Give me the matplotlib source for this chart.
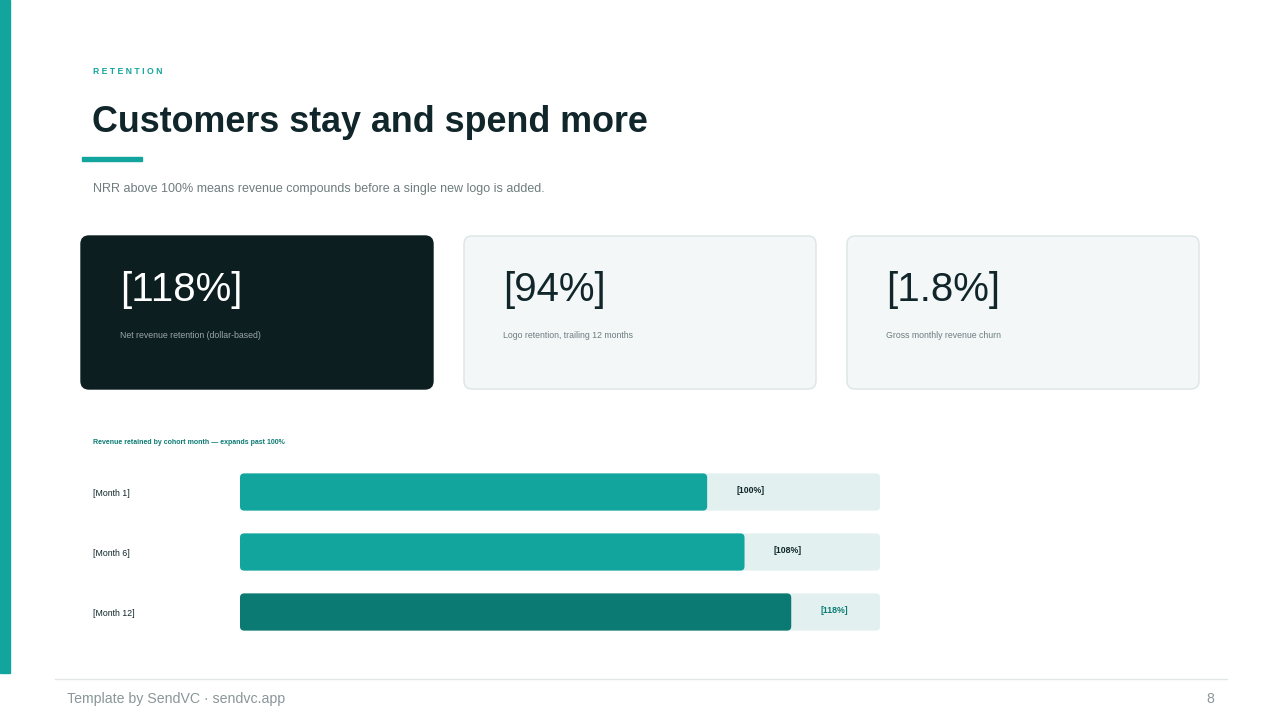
import matplotlib
matplotlib.use("Agg")
import matplotlib.pyplot as plt
from matplotlib.patches import FancyBboxPatch, Rectangle

plt.rcParams['font.family'] = ['Liberation Sans', 'DejaVu Sans']

categories = ["[Month 1]", "[Month 6]", "[Month 12]"]
values = [100, 108, 118]
value_labels = ["[100%]", "[108%]", "[118%]"]
track_max = 137
kpi_values = ["[118%]", "[94%]", "[1.8%]"]
kpi_captions = ["Net revenue retention (dollar-based)", "Logo retention, trailing 12 months", "Gross monthly revenue churn"]

TEAL = "#12a59d"; DARKTEAL = "#0b7a72"; INK = "#10262a"; GRAY = "#6e7c80"

fig = plt.figure(figsize=(12.8, 7.2), dpi=100)
bg = fig.add_axes([0, 0, 1, 1])
bg.set_xlim(0, 1280); bg.set_ylim(720, 0); bg.axis("off")

bg.add_patch(Rectangle((0, 0), 10, 673, color=TEAL))
bg.text(93, 71, "R E T E N T I O N", fontsize=6.2, fontweight="bold", color=TEAL, va="center")
bg.text(92, 122, "Customers stay and spend more", fontsize=25.8, fontweight="bold", color=INK, va="center")
bg.add_patch(Rectangle((82, 157), 60, 4, color=TEAL))
bg.text(93, 189, "NRR above 100% means revenue compounds before a single new logo is added.", fontsize=9, color=GRAY, va="center")

for i, (v, c) in enumerate(zip(kpi_values, kpi_captions)):
    x0 = 81 + i * 383
    dark = i == 0
    bg.add_patch(FancyBboxPatch((x0, 236), 352, 153, boxstyle="round,pad=0,rounding_size=8",
                                fc="#0d1e21" if dark else "#f3f7f8", ec="#0d1e21" if dark else "#dbe5e7", lw=1))
    bg.text(x0 + 39, 290, v, fontsize=29, color="white" if dark else INK, va="center")
    bg.text(x0 + 39, 335, c, fontsize=6.3, color="#9aa6a9" if dark else GRAY, va="center")

bg.text(93, 442, "Revenue retained by cohort month — expands past 100%", fontsize=5, fontweight="bold", color=DARKTEAL, va="center")

bg.plot([55, 1227], [679, 679], color="#e3e7e8", lw=1)
bg.text(67, 699, "Template by SendVC · sendvc.app", fontsize=10.2, color="#8a9699", va="center")
bg.text(1214, 699, "8", fontsize=10.2, color="#8a9699", va="center", ha="right")

ax = fig.add_axes([240/1280, 1 - 642/720, 640/1280, 180/720])
ax.set_xlim(0, track_max); ax.set_ylim(2.5, -0.5); ax.axis("off")
asp = (180 / 3) / (640 / track_max)
h = 0.62
for i, (cat, v, lab) in enumerate(zip(categories, values, value_labels)):
    ax.add_patch(FancyBboxPatch((0, i - h/2), track_max, h, boxstyle="round,pad=0,rounding_size=0.9",
                                mutation_aspect=1/asp, fc="#e2f1ef", ec="none"))
    col = DARKTEAL if i == 2 else TEAL
    ax.add_patch(FancyBboxPatch((0, i - h/2), v, h, boxstyle="round,pad=0,rounding_size=0.9",
                                mutation_aspect=1/asp, fc=col, ec="none"))
    ax.text(v + 6.2, i - 0.03, lab, fontsize=6.3, fontweight="bold", color=DARKTEAL if i == 2 else INK, va="center")
    bg.text(93, 492 + 60 * i + 1, cat, fontsize=6.3, color=INK, va="center")

fig.savefig("out.png", dpi=100)
